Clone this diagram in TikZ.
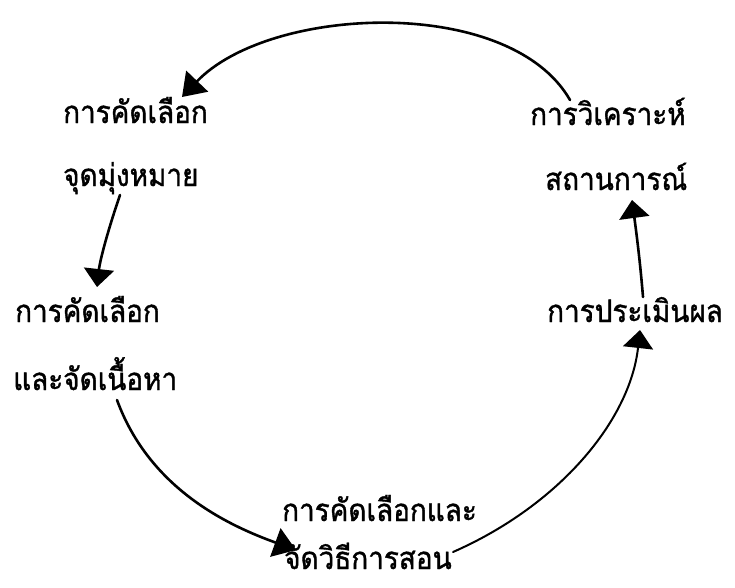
\documentclass[tikz,border=0pt]{standalone}
\usepackage{fontspec}
\newfontfamily\thaifont[Script=Thai,FakeStretch=0.9,FakeBold=1.2]{Loma}
\usetikzlibrary{arrows.meta}
\begin{document}
\begin{tikzpicture}[x=1pt,y=-1pt,
  lbl/.style={anchor=base west, inner sep=0pt, font=\thaifont\fontsize{31}{33}\selectfont},
  flow/.style={line width=2.6pt, line cap=round},
  headA/.style={-{Triangle[length=22pt,width=30pt]}},
  headB/.style={-{Triangle[length=18pt,width=30pt]}}]
\useasboundingbox[fill=white] (0,0) rectangle (735,587);
% labels
\node[lbl] (selobj1) at (63,123) {การคัดเลือก};
\node[lbl] (selobj2) at (63,186) {จุดมุ่งหมาย};
\node[lbl] (anal1) at (530,125) {การวิเคราะห์};
\node[lbl] (anal2) at (545,190) {สถานการณ์};
\node[lbl] (selcon1) at (15,322) {การคัดเลือก};
\node[lbl] (selcon2) at (13,390) {และจัดเนื้อหา};
\node[lbl] (eval) at (547,322) {การประเมินผล};
\node[lbl] (selmeth1) at (282,521) {การคัดเลือกและ};
\node[lbl] (selmeth2) at (284,569) {จัดวิธีการสอน};
% connector ends
\coordinate (aS) at (570,100);
\coordinate (aE) at (182,97);
\coordinate (bS) at (120,195);
\coordinate (bE) at (97,287);
\coordinate (cS) at (117,400);
\coordinate (cE) at (296,550);
\coordinate (dS) at (453,552);
\coordinate (dE) at (640,330);
\coordinate (eS) at (643,297);
\coordinate (eE) at (632,200);
% connectors
\draw[flow,headA] (aS) .. controls (510,-5) and (270,5) .. (aE);
\draw[flow,headB] (bS) .. controls (108,230) and (100,260) .. (bE);
\draw[flow,headA] (cS) .. controls (150,490) and (230,526) .. (cE);
\draw[flow,line width=2pt,headB] (dS) .. controls (560,505) and (630,420) .. (dE);
\draw[flow,headB] (eS) .. controls (640,260) and (636,230) .. (eE);
\end{tikzpicture}
\end{document}
